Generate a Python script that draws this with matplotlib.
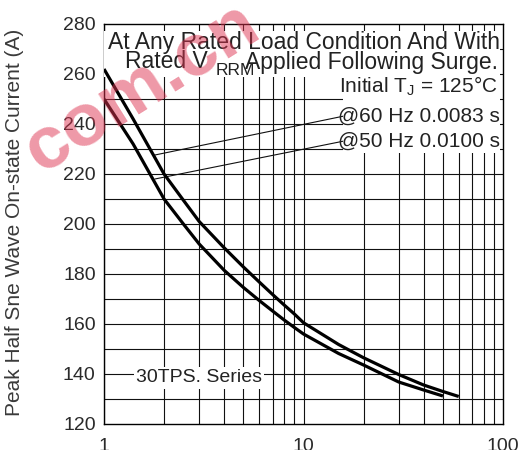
import matplotlib

matplotlib.use("Agg")
import matplotlib.pyplot as plt
from matplotlib.patches import Rectangle

# surge current vs number of cycles
cycles_60hz = [1, 1.4, 2, 2.5, 3, 4, 5, 6, 7, 8, 9, 10, 15, 20, 30, 40, 50, 60]
current_60hz = [262, 242, 220, 209.5, 201, 190.5, 182.8, 176.8, 171.8, 167.6,
                164.0, 160.5, 151.8, 146.5, 139.8, 135.6, 133.0, 131.0]
cycles_50hz = [1, 1.4, 2, 2.5, 3, 4, 5, 6, 7, 8, 9, 10, 15, 20, 30, 40, 50]
current_50hz = [250, 232, 210, 200.0, 192, 181.5, 174.6, 169.4, 165.2, 161.6,
                158.6, 156.0, 148.2, 143.6, 136.8, 133.6, 131.2]

x_ticks = [1, 10, 100]
x_tick_labels = ["1", "10", "100"]
y_ticks = [120, 140, 160, 180, 200, 220, 240, 260, 280]

plt.rcParams["font.family"] = ["Liberation Sans", "DejaVu Sans"]
plt.rcParams["mathtext.fontset"] = "custom"
plt.rcParams["mathtext.rm"] = "Liberation Sans"

fig = plt.figure(figsize=(5.25, 4.5), dpi=100)
ax = fig.add_axes([104 / 525, 26 / 450, 399 / 525, 400 / 450])

ax.set_xscale("log")
ax.set_xlim(1, 100)
ax.set_ylim(120, 280)

# full log grid on x, 10 A steps on y
for xv in [d * m for d in (1, 10) for m in range(1, 10)]:
    ax.axvline(xv, color="#111111", lw=0.8, zorder=1)
for yv in range(130, 280, 10):
    ax.axhline(yv, color="#111111", lw=0.8, zorder=1)

ax.plot(cycles_60hz, current_60hz, color="black", lw=2.3, zorder=5,
        solid_capstyle="butt")
ax.plot(cycles_50hz, current_50hz, color="black", lw=2.3, zorder=5,
        solid_capstyle="butt")

ax.set_xticks(x_ticks)
ax.set_xticklabels(x_tick_labels)
ax.set_xticks([], minor=True)
ax.set_yticks(y_ticks)
ax.tick_params(axis="both", length=0, labelsize=14, colors="#2a2a2a")
ax.tick_params(axis="x", pad=10)
ax.tick_params(axis="y", pad=6)
for spine in ax.spines.values():
    spine.set_linewidth(1.0)
    spine.set_color("black")

# white panels behind the condition text (they blank out the grid)
ax.add_patch(Rectangle((0.0, 0.8675), 0.992, 0.115, transform=ax.transAxes,
                       facecolor="white", edgecolor="none", zorder=4))
ax.add_patch(Rectangle((0.599, 0.6775), 0.393, 0.19, transform=ax.transAxes,
                       facecolor="white", edgecolor="none", zorder=4))

txt = dict(color="#222222", zorder=6)

ax.text(10.0, 272.8, "At Any Rated Load Condition And With", fontsize=16.5,
        ha="center", va="center", **txt)
ax.text(1.27, 264.8, "Rated V", fontsize=16.5, ha="left", va="center", **txt)
ax.text(3.64, 261.4, "RRM", fontsize=12.5, ha="left", va="center", **txt)
ax.text(94.5, 264.8, "Applied Following Surge.", fontsize=16.5,
        ha="right", va="center", **txt)
ax.text(93.5, 255.2, r"Initial T$_{\mathrm{J}}$ = 125°C", fontsize=15,
        ha="right", va="center", **txt)
ax.text(96.2, 243.2, "@60 Hz 0.0083 s", fontsize=15, ha="right",
        va="center", **txt)
ax.text(96.2, 233.2, "@50 Hz 0.0100 s", fontsize=15, ha="right",
        va="center", **txt)
ax.text(2.99, 138.4, "30TPS. Series", fontsize=14, ha="center", va="center",
        bbox=dict(facecolor="white", edgecolor="none", pad=1.5), **txt)

# leader lines from the labels to the curves
pointer = dict(arrowstyle="-", color="#111111", lw=0.8, shrinkA=0, shrinkB=0)
ax.annotate("", xy=(1.80, 227.6), xytext=(16.0, 243.2), arrowprops=pointer,
            zorder=2)
ax.annotate("", xy=(1.80, 218.0), xytext=(16.0, 233.2), arrowprops=pointer,
            zorder=2)

fig.text(15 / 525, 1 - 222 / 450, "Peak Half Sne Wave On-state Current (A)",
         rotation=90, ha="center", va="center", fontsize=15, color="#3a3a3a")

# faint site watermark in the top left corner
fig.text(142 / 525, 1 - 88 / 450, "com.cn", rotation=32, ha="center",
         va="center", fontsize=54, fontweight="bold", color="#dd3350",
         alpha=0.5, zorder=10)

fig.savefig("out.png", dpi=100)
